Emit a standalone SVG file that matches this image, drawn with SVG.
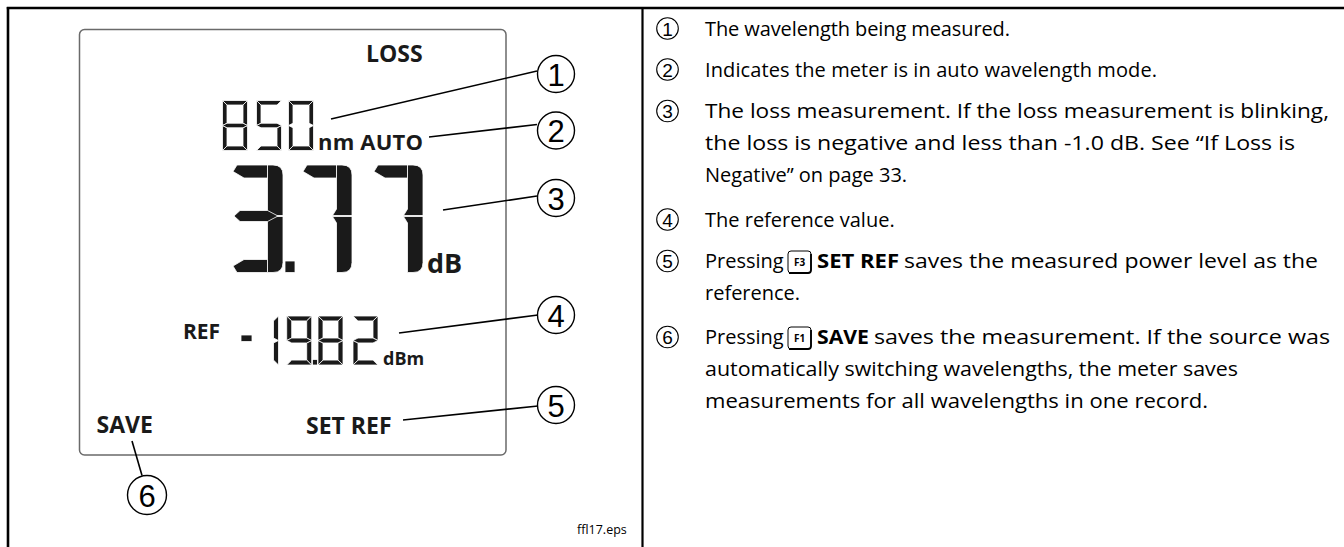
<svg xmlns="http://www.w3.org/2000/svg" width="1344" height="547" viewBox="0 0 1344 547">
<style>
.lbl{font-family:"Open Sans","Liberation Sans",sans-serif;font-weight:700;fill:#1a1a1a}
.body{font-family:"Open Sans","Liberation Sans",sans-serif;font-size:20px;fill:#000}
.bold{font-weight:700}
.num{font-family:"Liberation Sans",Arial,sans-serif;fill:#000;text-anchor:middle}
.co{fill:#fff;stroke:#000;stroke-width:1.4}
.lco{fill:#fff;stroke:#000;stroke-width:1.1}
.lead{stroke:#000;stroke-width:1.6;fill:none}
.seg polygon,.seg path,.seg rect{fill:#1a1a1a;stroke:#fff;stroke-width:0.8}
.key{fill:#fff;stroke:#000;stroke-width:1}
.keyt{font-family:"Open Sans","Liberation Sans",sans-serif;font-size:10px;font-weight:700;text-anchor:middle}
</style>

<g id="frame" fill="none" stroke="#000">
<line x1="6.8" y1="8" x2="1344" y2="8" stroke-width="2.6"/>
<line x1="8" y1="7" x2="8" y2="547" stroke-width="2.6"/>
<line x1="642.5" y1="8" x2="642.5" y2="547" stroke-width="2.2"/>
</g>

<g id="lcd">
<rect x="79.5" y="29.5" width="426.5" height="425.5" rx="5" fill="#fff" stroke="#6a6a6a" stroke-width="1.5"/>
<text class="lbl" x="366" y="62" font-size="23">LOSS</text>

<g id="wl-digits" class="seg">
<g transform="translate(222.5,100.5)">
<polygon points="0,0 25,0 20.5,4.5 4.5,4.5"/>
<polygon points="25,0 25,25 20.5,22.75 20.5,4.5"/>
<polygon points="25,25 25,50 20.5,45.5 20.5,27.25"/>
<polygon points="0,50 25,50 20.5,45.5 4.5,45.5"/>
<polygon points="0,25 4.5,27.25 4.5,45.5 0,50"/>
<polygon points="0,0 4.5,4.5 4.5,22.75 0,25"/>
<polygon points="0,25 4.5,22.75 20.5,22.75 25,25 20.5,27.25 4.5,27.25"/>
</g>
<g transform="translate(256.5,100.5)">
<polygon points="0,0 25,0 20.5,4.5 4.5,4.5"/>
<polygon points="25,25 25,50 20.5,45.5 20.5,27.25"/>
<polygon points="0,50 25,50 20.5,45.5 4.5,45.5"/>
<polygon points="0,0 4.5,4.5 4.5,22.75 0,25"/>
<polygon points="0,25 4.5,22.75 20.5,22.75 25,25 20.5,27.25 4.5,27.25"/>
</g>
<g transform="translate(288.5,100.5)">
<polygon points="0,0 25,0 20.5,4.5 4.5,4.5"/>
<polygon points="25,0 25,25 20.5,22.75 20.5,4.5"/>
<polygon points="25,25 25,50 20.5,45.5 20.5,27.25"/>
<polygon points="0,50 25,50 20.5,45.5 4.5,45.5"/>
<polygon points="0,25 4.5,27.25 4.5,45.5 0,50"/>
<polygon points="0,0 4.5,4.5 4.5,22.75 0,25"/>
</g>
</g>
<text class="lbl" x="318" y="150" font-size="22" textLength="105">nm AUTO</text>

<g id="loss-digits" class="seg">
<path d="M267.5,165 H273 Q283,165 283,175 V215.5 H267.5 Z"/>
<path d="M267.5,216.5 H283 V262.5 Q283,272.5 273,272.5 H267.5 Z"/>
<polygon points="237,165 267.5,165 267.5,178 244,178 233,171.5"/>
<polygon points="240,210.5 267.5,210.5 278,216 267.5,221.5 240,221.5 234,216"/>
<polygon points="244,259.5 267.5,259.5 267.5,272.5 237,272.5 233,266"/>
<rect x="285" y="261" width="10" height="11.5"/>
<polygon points="307,165 336.5,165 336.5,178 314,178 303,171.5"/>
<path d="M336.5,165 H342 Q352,165 352,175 V215.5 H332.5 L336.5,209 Z"/>
<path d="M332.5,216.5 H352 V262.5 Q352,272.5 342,272.5 H336.5 V223 Z"/>
<polygon points="378,165 407.5,165 407.5,178 385,178 374,171.5"/>
<path d="M407.5,165 H413 Q423,165 423,175 V215.5 H403.5 L407.5,209 Z"/>
<path d="M403.5,216.5 H423 V262.5 Q423,272.5 413,272.5 H407.5 V223 Z"/>
</g>
<text class="lbl" x="427" y="272.5" font-size="27">dB</text>

<text class="lbl" x="183" y="339" font-size="21">REF</text>
<g id="ref-digits" class="seg">
<rect x="241" y="335" width="11" height="6.5"/>
<g transform="translate(253.5,316) scale(1,0.98)">
<polygon points="25,0 25,25 20,22.5 20,5"/>
<polygon points="25,25 25,50 20,45 20,27.5"/>
</g>
<g transform="translate(286.7,316) scale(1,0.98)">
<polygon points="0,0 25,0 20,5 5,5"/>
<polygon points="25,0 25,25 20,22.5 20,5"/>
<polygon points="25,25 25,50 20,45 20,27.5"/>
<polygon points="0,50 25,50 20,45 5,45"/>
<polygon points="0,0 5,5 5,22.5 0,25"/>
<polygon points="0,25 5,22.5 20,22.5 25,25 20,27.5 5,27.5"/>
</g>
<rect x="312.5" y="359.5" width="5" height="5.5"/>
<g transform="translate(318,316) scale(1,0.98)">
<polygon points="0,0 25,0 20,5 5,5"/>
<polygon points="25,0 25,25 20,22.5 20,5"/>
<polygon points="25,25 25,50 20,45 20,27.5"/>
<polygon points="0,50 25,50 20,45 5,45"/>
<polygon points="0,25 5,27.5 5,45 0,50"/>
<polygon points="0,0 5,5 5,22.5 0,25"/>
<polygon points="0,25 5,22.5 20,22.5 25,25 20,27.5 5,27.5"/>
</g>
<g transform="translate(353,316) scale(1,0.98)">
<polygon points="0,0 25,0 20,5 5,5"/>
<polygon points="25,0 25,25 20,22.5 20,5"/>
<polygon points="0,50 25,50 20,45 5,45"/>
<polygon points="0,25 5,27.5 5,45 0,50"/>
<polygon points="0,25 5,22.5 20,22.5 25,25 20,27.5 5,27.5"/>
</g>
</g>
<text class="lbl" x="383" y="365" font-size="18">dBm</text>

<text class="lbl" x="96.5" y="433" font-size="23">SAVE</text>
<text class="lbl" x="306" y="434" font-size="23">SET REF</text>
</g>

<g id="connectors" class="lead">
<line x1="331" y1="119" x2="537" y2="71"/>
<line x1="429" y1="137" x2="537" y2="124.5"/>
<line x1="443" y1="210" x2="537" y2="196"/>
<line x1="399" y1="333" x2="538" y2="315"/>
<line x1="403" y1="420" x2="538" y2="406"/>
<line x1="132" y1="441" x2="142" y2="475.5"/>
</g>

<g id="c1"><circle class="co" cx="556" cy="74" r="18.5"/><text class="num" x="556" y="85.5" font-size="31">1</text></g>
<g id="c2"><circle class="co" cx="556" cy="130.5" r="18.5"/><text class="num" x="556" y="142" font-size="31">2</text></g>
<g id="c3"><circle class="co" cx="556" cy="198" r="18.5"/><text class="num" x="556" y="209.5" font-size="31">3</text></g>
<g id="c4"><circle class="co" cx="556" cy="315" r="18.5"/><text class="num" x="556" y="326.5" font-size="31">4</text></g>
<g id="c5"><circle class="co" cx="556" cy="405" r="18.5"/><text class="num" x="556" y="416.5" font-size="31">5</text></g>
<g id="c6"><circle class="co" cx="147" cy="495" r="19.5"/><text class="num" x="147" y="506.5" font-size="31">6</text></g>

<text id="fname" x="577" y="534" font-family="Open Sans, Liberation Sans, sans-serif" font-size="12.5" fill="#000">ffl17.eps</text>

<g id="legend">
<g id="l1"><circle class="lco" cx="667.5" cy="28.5" r="10.8"/><text class="num" x="667.5" y="35.5" font-size="19">1</text>
<text class="body" x="705" y="35.5" textLength="305" lengthAdjust="spacing">The wavelength being measured.</text></g>
<g id="l2"><circle class="lco" cx="667.5" cy="69.5" r="10.8"/><text class="num" x="667.5" y="76.5" font-size="19">2</text>
<text class="body" x="705" y="76.5" textLength="452" lengthAdjust="spacing">Indicates the meter is in auto wavelength mode.</text></g>
<g id="l3"><circle class="lco" cx="667.5" cy="111" r="10.8"/><text class="num" x="667.5" y="118" font-size="19">3</text>
<text class="body" x="705" y="118" textLength="624" lengthAdjust="spacingAndGlyphs">The loss measurement. If the loss measurement is blinking,</text>
<text class="body" x="705" y="150" textLength="590" lengthAdjust="spacingAndGlyphs">the loss is negative and less than -1.0 dB. See “If Loss is</text>
<text class="body" x="705" y="182">Negative” on page 33.</text></g>
<g id="l4"><circle class="lco" cx="667.5" cy="219.5" r="10.8"/><text class="num" x="667.5" y="226.5" font-size="19">4</text>
<text class="body" x="705" y="226.5">The reference value.</text></g>
<g id="l5"><circle class="lco" cx="667.5" cy="261" r="10.8"/><text class="num" x="667.5" y="268" font-size="19">5</text>
<text class="body" x="705" y="268">Pressing</text>
<g id="keyF3"><rect class="key" x="788" y="251" width="23" height="22" rx="3"/><path d="M789,273 H808 Q811,273 811,270 V254" fill="none" stroke="#000" stroke-width="1.8"/><text class="keyt" x="799.5" y="266">F3</text></g>
<text class="body bold" x="817" y="268" textLength="82" lengthAdjust="spacingAndGlyphs">SET REF</text>
<text class="body" x="904" y="268" textLength="414" lengthAdjust="spacingAndGlyphs">saves the measured power level as the</text>
<text class="body" x="705" y="300">reference.</text></g>
<g id="l6"><circle class="lco" cx="667.5" cy="337" r="10.8"/><text class="num" x="667.5" y="344" font-size="19">6</text>
<text class="body" x="705" y="344">Pressing</text>
<g id="keyF1"><rect class="key" x="788" y="327" width="23" height="22" rx="3"/><path d="M789,349 H808 Q811,349 811,346 V330" fill="none" stroke="#000" stroke-width="1.8"/><text class="keyt" x="799.5" y="342">F1</text></g>
<text class="body bold" x="817" y="344" textLength="52" lengthAdjust="spacingAndGlyphs">SAVE</text>
<text class="body" x="874" y="344" textLength="456" lengthAdjust="spacingAndGlyphs">saves the measurement. If the source was</text>
<text class="body" x="705" y="376" textLength="533" lengthAdjust="spacingAndGlyphs">automatically switching wavelengths, the meter saves</text>
<text class="body" x="705" y="408" textLength="503" lengthAdjust="spacingAndGlyphs">measurements for all wavelengths in one record.</text></g>
</g>
</svg>
